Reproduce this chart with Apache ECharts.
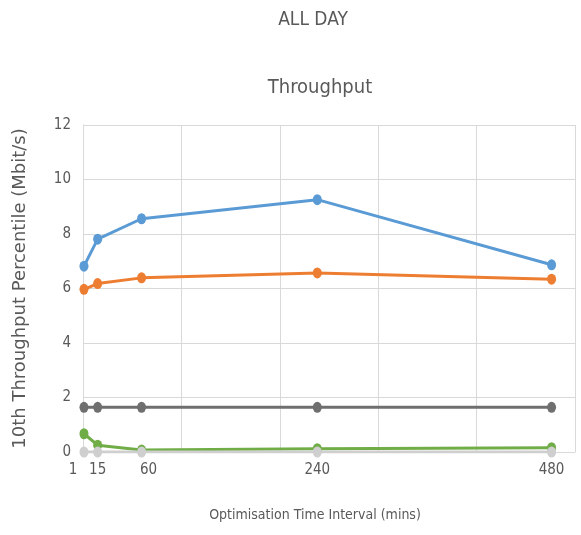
<!DOCTYPE html>
<html>
<head>
<meta charset="utf-8">
<title>ALL DAY – Throughput</title>
<script src="https://cdn.jsdelivr.net/npm/echarts@6/dist/echarts.min.js"></script>
<style>
  html, body { margin: 0; padding: 0; background: #ffffff; }
  #chart { width: 581px; height: 535px; }
</style>
</head>
<body>
<div id="chart"></div>
<script>
// Optimisation time intervals (minutes) and 10th-percentile throughput per configuration
const intervals = [1, 15, 60, 240, 480];
const tickLabels = [1, 15, 60, 240, 480];
const yTicks = [0, 2, 4, 6, 8, 10, 12];

const seriesBlue      = [6.82, 7.81, 8.56, 9.26, 6.87];
const seriesOrange    = [5.97, 6.18, 6.39, 6.57, 6.34];
const seriesDarkGrey  = [1.64, 1.64, 1.64, 1.64, 1.64];
const seriesGreen     = [0.67, 0.25, 0.07, 0.12, 0.16];
const seriesLightGrey = [0.00, 0.00, 0.00, 0.00, 0.00];

const palette = ['#5B9BD5', '#ED7D31', '#6F6F6F', '#70AD47', '#CFCFCF'];
const narrow = '"Liberation Sans Narrow", "DejaVu Sans Condensed", sans-serif';
const textGrey = '#595959';

function pairs(values) {
  return intervals.map((x, i) => [x, values[i]]);
}

function lineSeries(values, color) {
  return {
    type: 'line',
    data: pairs(values),
    symbol: 'circle',
    symbolSize: [9, 11],
    lineStyle: { color: color, width: 3 },
    itemStyle: { color: color },
    emphasis: { disabled: true },
    animation: false
  };
}

// The first ticks sit close together, so the "1" and "60" labels are nudged apart
function tickFormatter(value) {
  if (value === 1) return '{left|1}';
  if (value === 60) return '{right|60}';
  return String(value);
}

const chart = echarts.init(document.getElementById('chart'), null, { renderer: 'canvas' });

chart.setOption({
  backgroundColor: '#ffffff',
  graphic: [
    {
      type: 'text', x: 313, y: 20,
      style: { text: 'ALL DAY', font: '19px ' + narrow, fill: textGrey, align: 'center', verticalAlign: 'middle' }
    },
    {
      type: 'text', x: 320, y: 88,
      style: { text: 'Throughput', font: '20px ' + narrow, fill: textGrey, align: 'center', verticalAlign: 'middle' }
    }
  ],
  grid: { left: 83, right: 6, top: 125, bottom: 83, containLabel: false, outerBoundsMode: 'none' },
  xAxis: {
    type: 'value',
    min: 0,
    max: 504,
    interval: 100.8,
    name: 'Optimisation Time Interval (mins)',
    nameLocation: 'middle',
    nameGap: 56,
    nameTextStyle: { fontFamily: narrow, fontSize: 14, color: textGrey, padding: [0, 28, 0, 0] },
    axisLine: { show: true, lineStyle: { color: '#D9D9D9', width: 1 } },
    axisTick: { show: false },
    axisLabel: {
      customValues: tickLabels,
      margin: 11,
      fontFamily: narrow,
      fontSize: 15,
      color: textGrey,
      formatter: tickFormatter,
      rich: {
        left: { padding: [0, 22, 0, 0], fontFamily: narrow, fontSize: 15, color: textGrey },
        right: { padding: [0, 0, 0, 14], fontFamily: narrow, fontSize: 15, color: textGrey }
      }
    },
    splitLine: { show: true, lineStyle: { color: '#D9D9D9', width: 1 } }
  },
  yAxis: {
    type: 'value',
    min: yTicks[0],
    max: yTicks[yTicks.length - 1],
    interval: 2,
    name: '10th Throughput Percentile (Mbit/s)',
    nameLocation: 'middle',
    nameGap: 54,
    nameRotate: 90,
    nameTextStyle: { fontFamily: '"DejaVu Sans", sans-serif', fontSize: 18, color: textGrey, padding: [0, 0, 0, 0] },
    axisLine: { show: true, lineStyle: { color: '#D9D9D9', width: 1 } },
    axisTick: { show: false },
    axisLabel: { margin: 12, fontFamily: narrow, fontSize: 15, color: textGrey },
    splitLine: { show: true, lineStyle: { color: '#D9D9D9', width: 1 } }
  },
  series: [
    lineSeries(seriesBlue, palette[0]),
    lineSeries(seriesOrange, palette[1]),
    lineSeries(seriesDarkGrey, palette[2]),
    lineSeries(seriesGreen, palette[3]),
    lineSeries(seriesLightGrey, palette[4])
  ]
});
</script>
</body>
</html>
